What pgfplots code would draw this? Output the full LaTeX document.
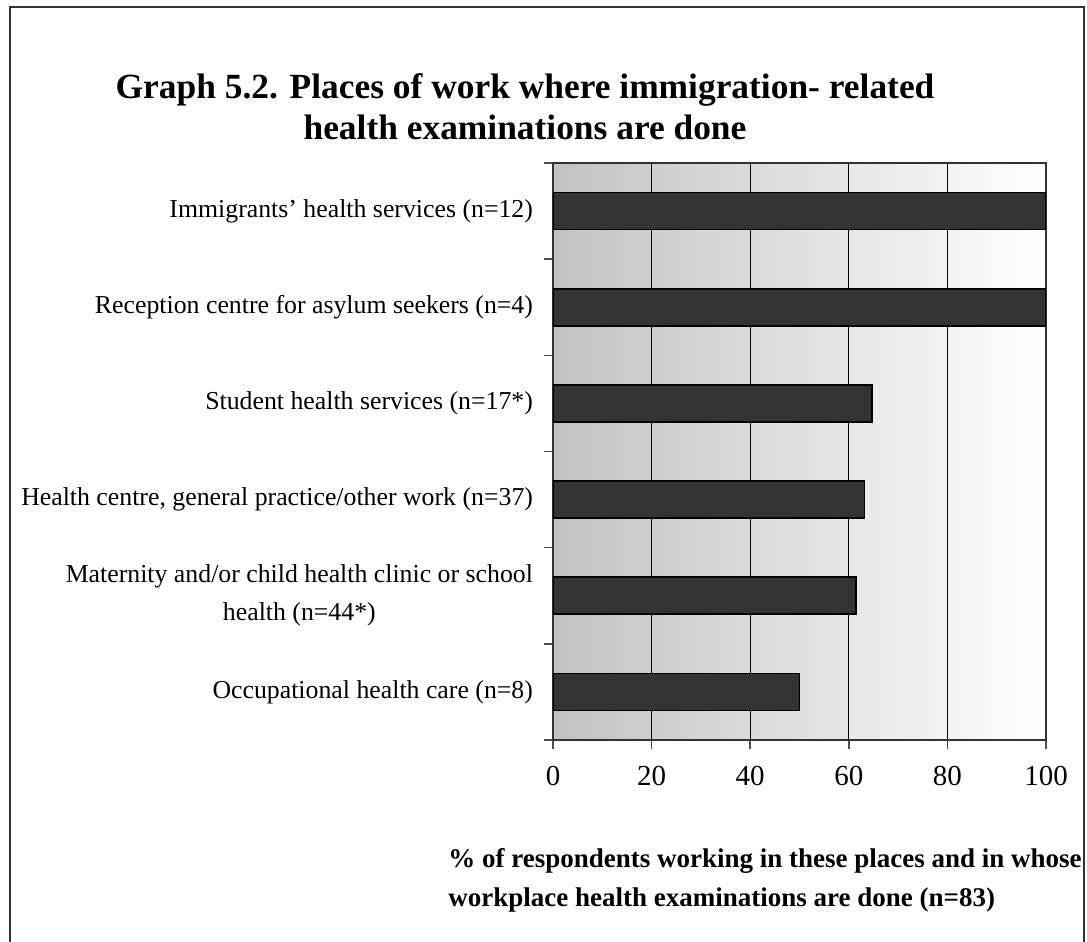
\documentclass[border=0pt]{standalone}
\usepackage{pgfplots}
\pgfplotsset{compat=1.18}
\usepackage{fontspec}
\setmainfont{Liberation Serif}
\definecolor{barfill}{HTML}{333333}
\begin{document}
\begin{tikzpicture}
\useasboundingbox (0,0) rectangle (543.5pt,471pt);
\draw[line width=1pt, black!80] (5pt,-2pt) -- (5pt,467.5pt) -- (542pt,467.5pt) -- (542pt,-2pt);
\node[font=\fontsize{17.7}{20.5}\selectfont\bfseries, align=center] at (262.5pt,417.5pt)
  {Graph 5.2. Places of work where immigration- related\\health examinations are done};
\begin{axis}[
  at={(276.5pt,101pt)}, anchor=south west,
  width=246.5pt, height=288.5pt, scale only axis,
  xbar, bar width=18.5pt,
  xmin=0, xmax=100, ymin=0.5, ymax=6.5, y dir=reverse,
  xtick={0,20,40,60,80,100},
  ytick={1,2,3,4,5,6},
  ytick pos=left, xtick pos=bottom,
  yticklabels={Immigrants’ health services (n=12),
    Reception centre for asylum seekers (n=4),
    Student health services (n=17*),
    {Health centre, general practice/other work (n=37)},
    {Maternity and/or child health clinic or school\\health (n=44*)},
    Occupational health care (n=8)},
  yticklabel style={align=center, font=\fontsize{12.9}{19}\selectfont, xshift=-2pt},
  xticklabel style={font=\fontsize{14.5}{17}\selectfont, yshift=-5pt},
  /pgf/number format/assume math mode=true,
  major y tick style={draw=none},
  minor ytick={0.5,1.5,...,6.5},
  minor tick length=4.5pt,
  minor y tick style={black!70, line width=0.8pt},
  major x tick style={black!70, line width=0.8pt},
  major tick length=4.5pt,
  tick align=outside,
  xmajorgrids, major grid style={black, line width=0.6pt},
  axis line style={black!80, line width=1pt},
  axis background/.style={shade, shading=axis, left color=black!24, right color=white, shading angle=90},
]
\addplot[fill=barfill, draw=black, line width=0.8pt] coordinates {
  (100,1) (100,2) (64.7,3) (63.2,4) (61.4,5) (50,6)};
\end{axis}
\node[font=\fontsize{13.5}{19.5}\selectfont\bfseries, align=left, anchor=north west, inner sep=0pt] at (224pt,47pt)
  {\% of respondents working in these places and in whose\\workplace health examinations are done (n=83)};
\end{tikzpicture}
\end{document}
